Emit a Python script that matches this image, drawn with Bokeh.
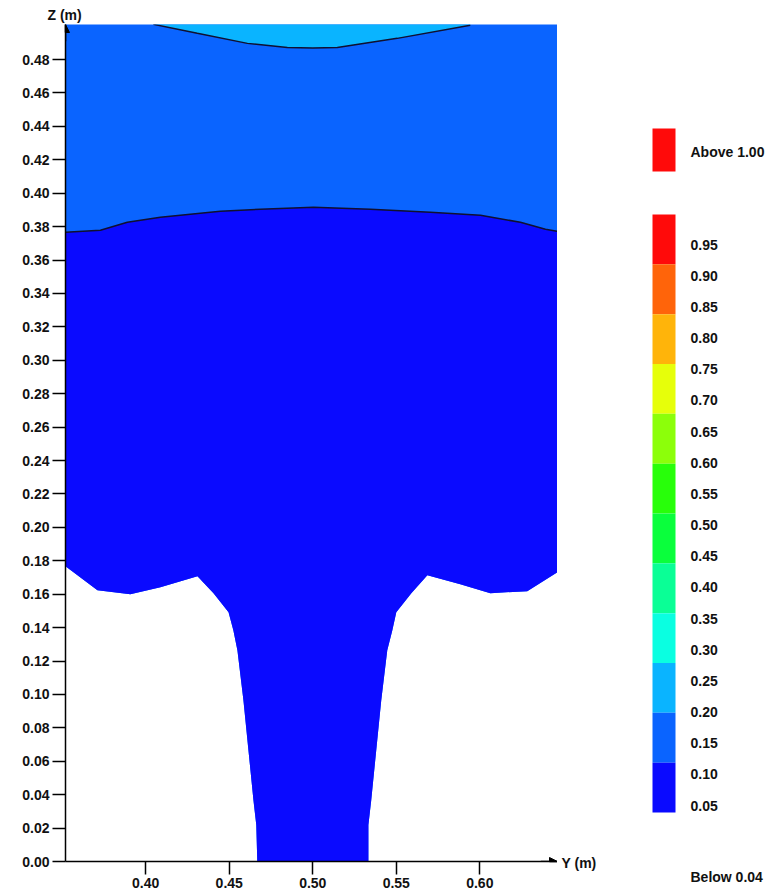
from bokeh.plotting import figure
from bokeh.models import (Range1d, FixedTicker, PrintfTickFormatter, Title,
                          Arrow, NormalHead, ColumnDataSource)
from bokeh.layouts import row
from bokeh.embed import file_html
from bokeh.resources import INLINE

# ---------------- data ----------------
y_ticks = [0.40, 0.45, 0.50, 0.55, 0.60]
z_ticks = [0.00, 0.02, 0.04, 0.06, 0.08, 0.10, 0.12, 0.14, 0.16, 0.18, 0.20,
           0.22, 0.24, 0.26, 0.28, 0.30, 0.32, 0.34, 0.36, 0.38, 0.40, 0.42,
           0.44, 0.46, 0.48]

# lower edge of the fluid region (left wall -> jet stem -> right wall)
edge_y = [0.3520, 0.3711, 0.3908, 0.4088, 0.4310, 0.4406, 0.4496, 0.4525,
          0.4549, 0.4585, 0.4615, 0.4645, 0.4662, 0.4668,
          0.5333, 0.5333, 0.5350, 0.5380, 0.5410, 0.5446, 0.5476, 0.5500,
          0.5590, 0.5686, 0.5883, 0.6063, 0.6284, 0.6465]
edge_z = [0.1767, 0.1624, 0.1600, 0.1642, 0.1707, 0.1606, 0.1492, 0.1383,
          0.1265, 0.0965, 0.0666, 0.0367, 0.0218, 0.0000,
          0.0000, 0.0218, 0.0367, 0.0666, 0.0965, 0.1265, 0.1383, 0.1492,
          0.1606, 0.1713, 0.1659, 0.1606, 0.1618, 0.1731]

# contour 0.10 (dark blue / blue)
c10_y = [0.3520, 0.3729, 0.3890, 0.4088, 0.4327, 0.4447, 0.4686, 0.5004,
         0.5345, 0.5704, 0.6004, 0.6243, 0.6393, 0.6465]
c10_z = [0.3766, 0.3778, 0.3826, 0.3856, 0.3880, 0.3892, 0.3904, 0.3916,
         0.3904, 0.3886, 0.3868, 0.3826, 0.3784, 0.3772]

# contour 0.20 (blue / light blue)
c20_y = [0.4046, 0.4309, 0.4609, 0.4848, 0.5000, 0.5147, 0.5506, 0.5943]
c20_z = [0.5011, 0.4957, 0.4897, 0.4873, 0.4870, 0.4873, 0.4927, 0.5005]

band_colors = ["#FF0A0A", "#FF640A", "#FFB40A", "#E6FF0A", "#8CFF0A",
               "#28FF0A", "#0AFF3C", "#0AFF96", "#0AFFE1", "#0AB4FF",
               "#0A64FF", "#0A0AFF"]
band_labels = ["0.95", "0.90", "0.85", "0.80", "0.75", "0.70", "0.65",
               "0.60", "0.55", "0.50", "0.45", "0.40", "0.35", "0.30",
               "0.25", "0.20", "0.15", "0.10", "0.05"]
above_label = "Above 1.00"
below_label = "Below 0.04"
above_color = "#FF0A0A"
x_axis_title = "Y (m)"
y_axis_title = "Z (m)"

COL_LOW = "#0A0AFF"
COL_MID = "#0A64FF"
COL_HIGH = "#0AB4FF"

FONT = "Liberation Sans"
FSIZE = "14px"

# ---------------- main figure ----------------
x0, x1 = 0.352, 0.6465
z0, z1 = 0.0, 0.501

p = figure(frame_width=492, frame_height=837, output_backend="svg",
           toolbar_location=None, x_range=Range1d(x0, x1),
           y_range=Range1d(z0, z1), min_border_left=65, min_border_right=0,
           min_border_top=24, min_border_bottom=35)
p.outline_line_color = None
p.xgrid.visible = False
p.ygrid.visible = False
p.background_fill_color = "white"
p.border_fill_color = "white"

top = z1 + 0.01
p.patch(edge_y + [x1, x0], edge_z + [top, top], fill_color=COL_MID,
        line_color=None)
p.patch(edge_y + c10_y[::-1], edge_z + c10_z[::-1], fill_color=COL_LOW,
        line_color=None)
p.patch(c20_y + [c20_y[-1], c20_y[0]], c20_z + [top, top],
        fill_color=COL_HIGH, line_color=None)
p.line(c10_y, c10_z, line_color="#101030", line_width=1.5)
p.line(c20_y, c20_z, line_color="#101030", line_width=1.5)

for ax in (p.xaxis[0], p.yaxis[0]):
    ax.major_label_text_font = FONT
    ax.major_label_text_font_style = "bold"
    ax.major_label_text_font_size = FSIZE
    ax.major_label_text_color = "#111111"
    ax.axis_line_color = "black"
    ax.axis_line_width = 1.5
    ax.major_tick_line_color = "black"
    ax.major_tick_line_width = 1.5
    ax.major_tick_in = 0
    ax.minor_tick_line_color = None
    ax.formatter = PrintfTickFormatter(format="%.2f")

p.xaxis.ticker = FixedTicker(ticks=y_ticks)
p.yaxis.ticker = FixedTicker(ticks=z_ticks)
p.xaxis.major_tick_out = 13
p.xaxis.major_label_standoff = 3
p.yaxis.major_tick_out = 13
p.yaxis.major_label_standoff = 3

p.add_layout(Arrow(end=NormalHead(size=8, fill_color="black", line_color="black"),
                   x_start=x0, y_start=z1 - 0.01, x_end=x0, y_end=z1,
                   line_color="black", line_width=1.5))
p.add_layout(Arrow(end=NormalHead(size=8, fill_color="black", line_color="black"),
                   x_start=x1 - 0.01, y_start=z0, x_end=x1, y_end=z0,
                   line_color="black", line_width=1.5))

p.add_layout(Title(text=y_axis_title, align="left", offset=-18, standoff=4,
                   text_font=FONT, text_font_style="bold",
                   text_font_size=FSIZE, text_color="#111111"), "above")

# ---------------- legend figure (page pixel coordinates) ----------------
LX0, LX1 = 557, 769
LY0, LY1 = 24, 896
lg = figure(frame_width=LX1 - LX0, frame_height=LY1 - LY0,
            output_backend="svg", toolbar_location=None,
            x_range=Range1d(LX0, LX1), y_range=Range1d(LY1, LY0),
            min_border_left=0, min_border_right=0, min_border_top=LY0,
            min_border_bottom=0, x_axis_location=None, y_axis_location=None)
lg.outline_line_color = None
lg.xgrid.visible = False
lg.ygrid.visible = False
lg.border_fill_color = "white"

sw_l, sw_r = 652, 675
band_top, band_bot = 214, 812
n = len(band_colors)
h = (band_bot - band_top) / n
src = ColumnDataSource(dict(
    left=[sw_l] * n, right=[sw_r] * n,
    top=[band_top + i * h for i in range(n)],
    bottom=[band_top + (i + 1) * h for i in range(n)],
    color=band_colors))
lg.quad(left="left", right="right", top="top", bottom="bottom",
        fill_color="color", line_color=None, source=src)
lg.quad(left=[sw_l], right=[sw_r], top=[128], bottom=[171],
        fill_color=above_color, line_color=None)

lab_top, lab_bot = 244, 805
m = len(band_labels)
step = (lab_bot - lab_top) / (m - 1)
lsrc = ColumnDataSource(dict(x=[690] * m,
                             y=[lab_top + i * step for i in range(m)],
                             text=band_labels))
lg.text(x="x", y="y", text="text", source=lsrc, text_baseline="middle",
        text_align="left", text_font={"value": FONT}, text_font_style="bold",
        text_font_size=FSIZE, text_color="#111111")
lg.text(x=[690, 690, 561], y=[151, 876, 862],
        text=[above_label, below_label, x_axis_title],
        text_baseline="middle", text_align="left", text_font={"value": FONT},
        text_font_style="bold", text_font_size=FSIZE, text_color="#111111")

layout = row(p, lg)
open("out.html", "w").write(file_html(layout, INLINE))
